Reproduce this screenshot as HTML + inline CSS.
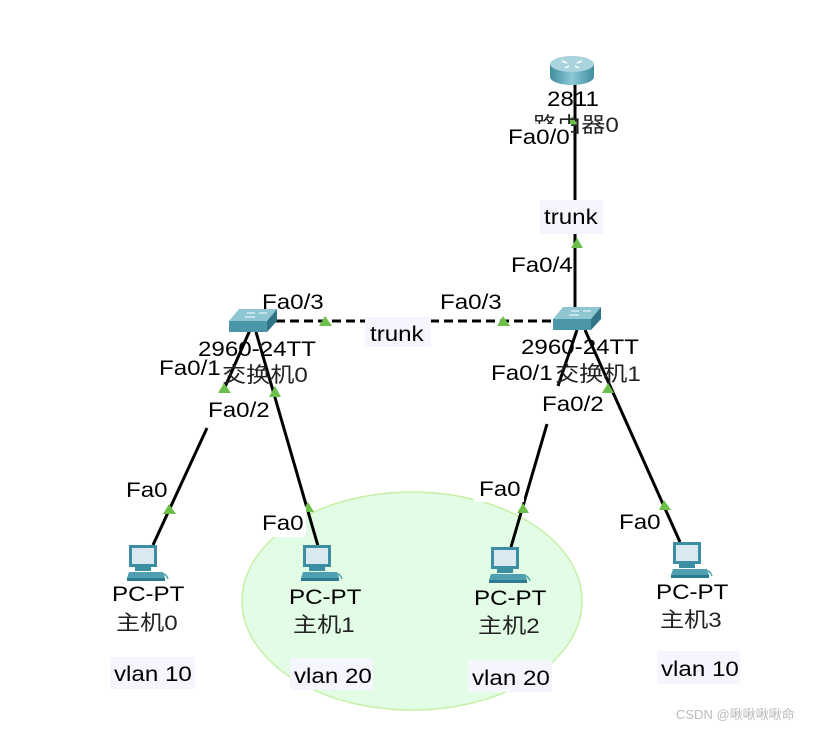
<!DOCTYPE html>
<html><head><meta charset="utf-8"><style>
html,body{margin:0;padding:0;background:#fff;}
svg{display:block;}
text{font-family:"Liberation Sans","Noto Sans CJK SC",sans-serif;font-size:21px;fill:#000;transform-box:fill-box;transform-origin:left center;transform:scaleX(1.15);}
.cn{fill:#222;}
</style></head><body>
<svg width="820" height="729" viewBox="0 0 820 729" xmlns="http://www.w3.org/2000/svg">
<defs>
<linearGradient id="tl" x1="0" x2="1"><stop offset="0" stop-color="#3f8da0"/><stop offset="0.5" stop-color="#8ec8d6"/><stop offset="1" stop-color="#3f8da0"/></linearGradient>
<g id="pc">
  <rect x="2" y="0" width="28" height="22" fill="#3c8ea2"/>
  <rect x="5" y="3" width="22" height="16" fill="#d9e9ef"/>
  <rect x="8" y="22" width="16" height="4" fill="#3c8ea2"/>
  <polygon points="2,27 36,27 38,33 0,33" fill="#4f9fb2"/>
  <rect x="0" y="33" width="38" height="3" fill="#2f7a8c"/>
  <path d="M33,28 q6,0 8,6" stroke="#5aa" fill="none" stroke-width="1.5"/>
</g>
<g id="sw">
  <polygon points="10,0 48,0 38,12 0,12" fill="#8ec6d2"/>
  <rect x="0" y="12" width="38" height="11" fill="#4b97a9"/>
  <polygon points="38,12 48,0 48,12 38,23" fill="#2f7486"/>
  <path d="M18,4 h8 M16,8 h10 M30,4 h8" stroke="#fff" stroke-width="1"/>
</g>
</defs>
<ellipse cx="412" cy="601" rx="170" ry="109" fill="#e2fce5" stroke="#c6f0a8" stroke-width="1.5"/>

<g stroke="#000" stroke-width="3" fill="none">
<line x1="575" y1="84" x2="575" y2="312"/>
<line x1="250" y1="330" x2="225" y2="387"/>
<line x1="207" y1="428" x2="153" y2="545"/>
<line x1="256" y1="332" x2="318" y2="546"/>
<line x1="577" y1="330" x2="558" y2="386"/>
<line x1="547" y1="424" x2="511" y2="547"/>
<line x1="585" y1="330" x2="680" y2="542"/>
</g>
<line x1="276" y1="321" x2="553" y2="321" stroke="#000" stroke-width="3" stroke-dasharray="9,5"/>

<g fill="#6cc04a">
<polygon points="325,316 319,326 332,326"/>
<polygon points="503,316 497,326 510,326"/>
<polygon points="577,238 571,248 583,248"/>
<polygon points="572,116 567,125 578,125"/>
<polygon points="224,383 218,393 231,393"/>
<polygon points="275,386 269,397 281,397"/>
<polygon points="608,383 602,393 614,393"/>
<polygon points="169,504 163,514 176,514"/>
<polygon points="308,502 302,512 314,512"/>
<polygon points="523,503 517,513 529,513"/>
<polygon points="664,500 659,510 671,510"/>
</g>

<g>
<path d="M550,64 v13 a22,8 0 0 0 44,0 v-13 z" fill="url(#tl)"/>
<ellipse cx="572" cy="64" rx="22" ry="8" fill="#a9d3dd"/>
<path d="M562,61 l5,2 M582,61 l-5,2 M565,68 l4,-2 M579,68 l-4,-2" stroke="#fff" stroke-width="1.5"/>
</g>
<use href="#sw" x="229" y="309"/>
<use href="#sw" x="553" y="307"/>
<use href="#pc" x="127" y="545"/>
<use href="#pc" x="301" y="545"/>
<use href="#pc" x="489" y="547"/>
<use href="#pc" x="671" y="542"/>

<rect x="540" y="200" width="63" height="34" fill="#f4f5fd"/>
<rect x="365" y="317" width="66" height="30" fill="#f4f5fd"/>
<rect x="110" y="657" width="85" height="32" fill="#f4f5fd"/>
<rect x="290" y="658" width="83" height="32" fill="#f4f5fd"/>
<rect x="468" y="660" width="84" height="32" fill="#f4f5fd"/>
<rect x="657" y="651" width="83" height="33" fill="#f4f5fd"/>
<rect x="256" y="507" width="50" height="30" fill="#fff"/>
<rect x="474" y="472" width="50" height="30" fill="#fff"/>

<text x="547" y="106">2811</text>
<text x="533" y="132" class="cn">路由器0</text>
<rect x="507" y="124" width="64" height="22" fill="#fff"/>
<text x="508" y="144">Fa0/0</text>
<text x="544" y="224">trunk</text>
<text x="511" y="272">Fa0/4</text>
<text x="262" y="309">Fa0/3</text>
<text x="440" y="309">Fa0/3</text>
<text x="370" y="341">trunk</text>
<text x="198" y="356">2960-24TT</text>
<text x="222" y="382" class="cn">交换机0</text>
<text x="159" y="375">Fa0/1</text>
<text x="208" y="417">Fa0/2</text>
<text x="521" y="354">2960-24TT</text>
<text x="555" y="381" class="cn">交换机1</text>
<text x="491" y="380">Fa0/1</text>
<text x="542" y="411">Fa0/2</text>
<text x="126" y="497">Fa0</text>
<text x="262" y="530">Fa0</text>
<text x="479" y="496">Fa0</text>
<text x="619" y="529">Fa0</text>
<text x="112" y="601">PC-PT</text>
<text x="116" y="630" class="cn">主机0</text>
<text x="289" y="604">PC-PT</text>
<text x="293" y="632" class="cn">主机1</text>
<text x="474" y="605">PC-PT</text>
<text x="478" y="633" class="cn">主机2</text>
<text x="656" y="599">PC-PT</text>
<text x="660" y="627" class="cn">主机3</text>
<text x="114" y="681">vlan 10</text>
<text x="294" y="683">vlan 20</text>
<text x="472" y="685">vlan 20</text>
<text x="661" y="676">vlan 10</text>
<text x="676" y="719" style="font-size:13px;fill:#bbb;transform:none">CSDN @啾啾啾啾命</text>
</svg>
</body></html>
